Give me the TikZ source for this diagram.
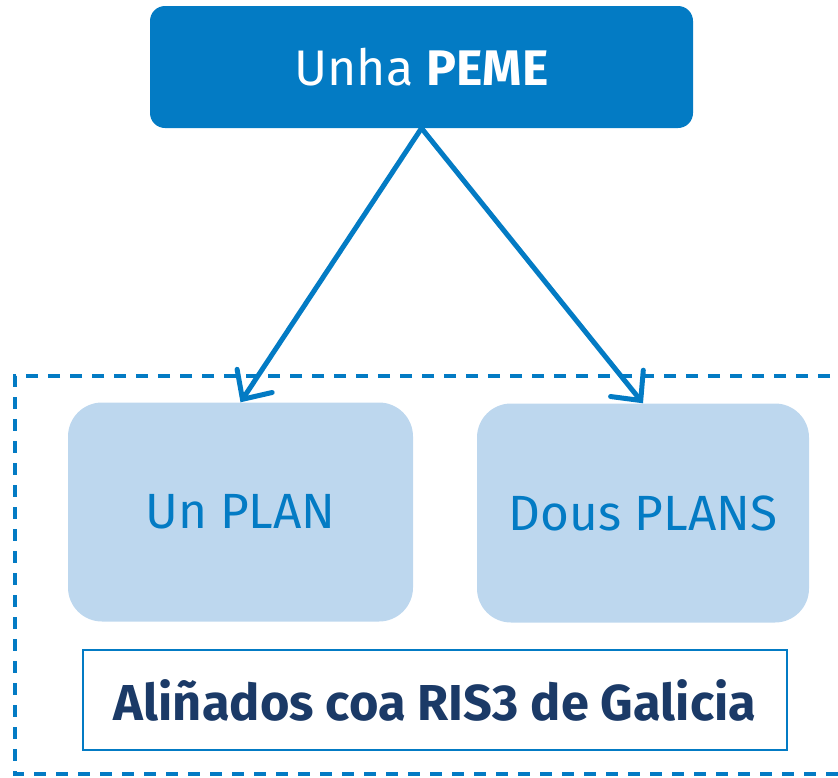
\documentclass[tikz,border=0pt]{standalone}
\usepackage{fontspec}
\setmainfont{Fira Sans}
\usetikzlibrary{arrows.meta,positioning}
\definecolor{pemeblue}{HTML}{037BC4}
\definecolor{planblue}{HTML}{BDD7EE}
\definecolor{risnavy}{HTML}{1B3A67}
\tikzset{
 topbox/.style={fill=pemeblue,rounded corners=15pt,text=white,minimum width=543pt,minimum height=122pt,font=\fontsize{50}{60}\selectfont},
 planbox/.style={fill=planblue,rounded corners=34pt,text=pemeblue,minimum height=219pt,font=\fontsize{49.5}{58}\selectfont},
 risbox/.style={draw=pemeblue,line width=2.5pt,fill=white,minimum width=704pt,minimum height=100pt,text=risnavy,font=\fontsize{50.5}{60}\selectfont\bfseries},
 link/.style={draw=pemeblue,line width=5pt,-{Straight Barb[length=22pt,width=42pt,line width=5pt,line cap=round]}}
}
\begin{document}
\begin{tikzpicture}[x=1pt,y=-1pt]
 \useasboundingbox (0,0) rectangle (838,777);
 \draw[pemeblue,line width=4pt,dash pattern=on 12pt off 10pt] (852,376) -- (15,376) -- (15,774) -- (852,774);
 \node[topbox] (peme) at (421.5,67) {Unha \textbf{PEME}};
 \node[planbox,minimum width=345pt] (plan1) at (240.5,512) {Un PLAN};
 \node[planbox,minimum width=332pt] (plan2) at (643,513) {Dous PLANS};
 \node[risbox] (ris) at (435,700) {Aliñados coa RIS3 de Galicia};
 \draw[link] (peme.south) -- (plan1.north);
 \draw[link] (peme.south) -- (plan2.north);
\end{tikzpicture}
\end{document}
